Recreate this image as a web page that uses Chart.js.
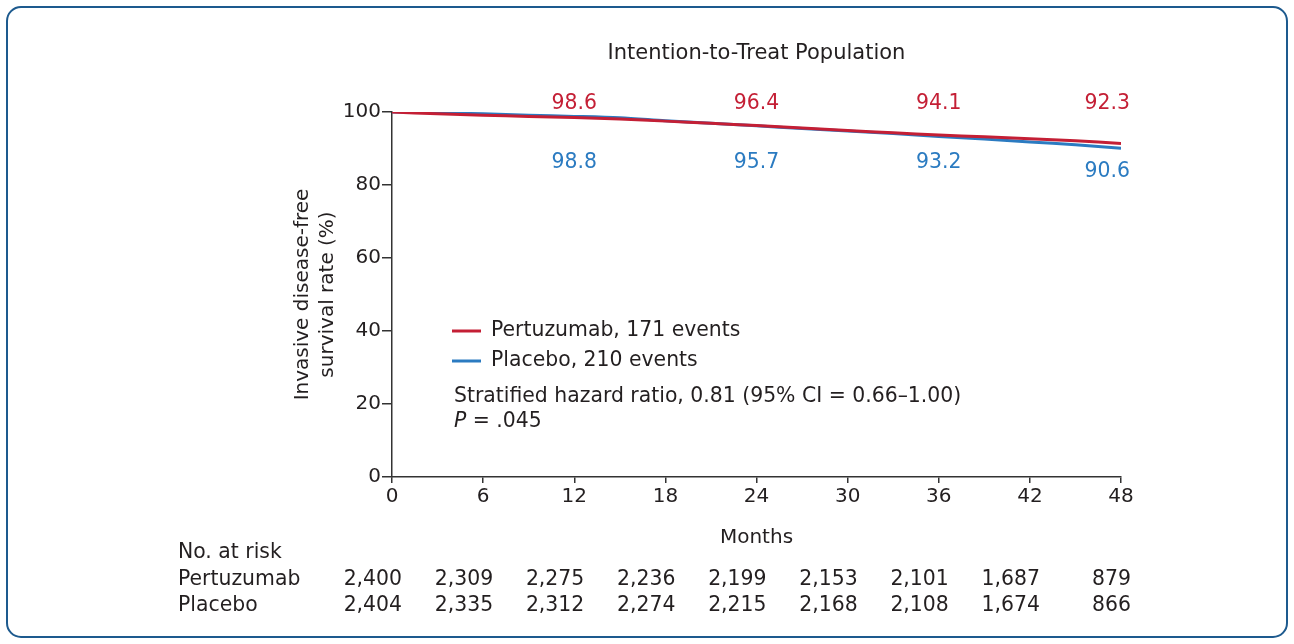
<!DOCTYPE html>
<html>
<head>
<meta charset="utf-8">
<script src="https://cdn.jsdelivr.net/npm/chart.js@4.4.1/dist/chart.umd.min.js"></script>
<style>
  html, body { margin: 0; padding: 0; background: #fff; }
  #wrap { width: 1294px; height: 644px; }
</style>
</head>
<body>
<div id="wrap"><canvas id="kmChart" width="1294" height="644"></canvas></div>
<script>
// survival curves, every 3 months
const months = [0, 3, 6, 9, 12, 15, 18, 21, 24, 27, 30, 33, 36, 39, 42, 45, 48];
const pertuzumabRate = [100, 99.5, 99.1, 98.8, 98.5, 98.1, 97.5, 96.9, 96.3, 95.6, 94.9, 94.3, 93.7, 93.2, 92.7, 92.1, 91.4];
const placeboRate = [100, 99.8, 99.5, 99.1, 98.8, 98.4, 97.6, 96.9, 96.2, 95.5, 94.8, 94.1, 93.3, 92.6, 91.8, 91.0, 90.1];

// rates printed above / below the curves
const labelMonths = [12, 24, 36, 48];
const pertuzumabLabels = ['98.6', '96.4', '94.1', '92.3'];
const placeboLabels = ['98.8', '95.7', '93.2', '90.6'];

// number at risk table
const riskMonths = [0, 6, 12, 18, 24, 30, 36, 42, 48];
const riskPertuzumab = ['2,400', '2,309', '2,275', '2,236', '2,199', '2,153', '2,101', '1,687', '879'];
const riskPlacebo = ['2,404', '2,335', '2,312', '2,274', '2,215', '2,168', '2,108', '1,674', '866'];

const seriesNames = ['Pertuzumab, 171 events', 'Placebo, 210 events'];
const groupNames = ['Pertuzumab', 'Placebo'];

const RED = '#c41f35';
const BLUE = '#2b7bc1';
const INK = '#231f20';
const FONT = '"DejaVu Sans", sans-serif';
const TXT = '20.4px ' + FONT;

function toPoints(xs, ys) {
  return xs.map((x, i) => ({ x: x, y: ys[i] }));
}

// everything that is not a curve or an axis
const extrasPlugin = {
  id: 'extras',
  beforeDraw(chart) {
    const ctx = chart.ctx;
    ctx.save();
    ctx.fillStyle = '#fff';
    ctx.fillRect(0, 0, chart.width, chart.height);
    ctx.strokeStyle = '#1d5a8e';
    ctx.lineWidth = 2;
    ctx.beginPath();
    ctx.roundRect(7, 7, chart.width - 14, chart.height - 14, 14);
    ctx.stroke();
    ctx.restore();
  },
  afterDraw(chart) {
    const ctx = chart.ctx;
    const area = chart.chartArea;
    const xs = chart.scales.x;
    ctx.save();
    ctx.textBaseline = 'middle';

    // title
    ctx.font = '21px ' + FONT;
    ctx.fillStyle = INK;
    ctx.textAlign = 'center';
    ctx.fillText('Intention-to-Treat Population', (area.left + area.right) / 2, 54);

    // rate labels
    ctx.font = TXT;
    labelMonths.forEach((m, i) => {
      const last = i === labelMonths.length - 1;
      const px = last ? xs.getPixelForValue(m) + 9 : xs.getPixelForValue(m);
      ctx.textAlign = last ? 'right' : 'center';
      ctx.fillStyle = RED;
      ctx.fillText(pertuzumabLabels[i], px, area.top - 8);
      ctx.fillStyle = BLUE;
      ctx.fillText(placeboLabels[i], px, area.top + (last ? 60 : 51));
    });

    // legend
    const colors = [RED, BLUE];
    const legendY = [331, 361];
    ctx.textAlign = 'left';
    seriesNames.forEach((name, i) => {
      ctx.strokeStyle = colors[i];
      ctx.lineWidth = 3;
      ctx.beginPath();
      ctx.moveTo(452, legendY[i]);
      ctx.lineTo(481, legendY[i]);
      ctx.stroke();
      ctx.fillStyle = INK;
      ctx.fillText(name, 491, legendY[i]);
    });
    ctx.fillText('Stratified hazard ratio, 0.81 (95% CI = 0.66\u20131.00)', 454, 397);
    ctx.font = 'italic ' + TXT;
    ctx.fillText('P', 454, 422);
    const pw = ctx.measureText('P').width;
    ctx.font = TXT;
    ctx.fillText(' = .045', 454 + pw, 422);

    // number at risk
    ctx.fillText('No. at risk', 178, 553);
    ctx.fillText(groupNames[0], 178, 580);
    ctx.fillText(groupNames[1], 178, 606);
    ctx.textAlign = 'right';
    riskMonths.forEach((m, i) => {
      const px = xs.getPixelForValue(m) + 10;
      ctx.fillText(riskPertuzumab[i], px, 580);
      ctx.fillText(riskPlacebo[i], px, 606);
    });
    ctx.restore();
  }
};

Chart.defaults.font.family = FONT;
Chart.defaults.color = INK;

const ctx = document.getElementById('kmChart').getContext('2d');
new Chart(ctx, {
  type: 'line',
  data: {
    datasets: [
      {
        label: seriesNames[0],
        data: toPoints(months, pertuzumabRate),
        borderColor: RED,
        borderWidth: 3,
        pointRadius: 0,
        tension: 0.3,
        fill: false
      },
      {
        label: seriesNames[1],
        data: toPoints(months, placeboRate),
        borderColor: BLUE,
        borderWidth: 3,
        pointRadius: 0,
        tension: 0.3,
        fill: false
      }
    ]
  },
  options: {
    responsive: false,
    animation: false,
    layout: { padding: { left: 280, right: 173, top: 112, bottom: 92 } },
    plugins: {
      legend: { display: false },
      tooltip: { enabled: false }
    },
    scales: {
      x: {
        type: 'linear',
        min: 0,
        max: 48,
        afterFit: (scale) => { scale.height = 75; },
        ticks: { stepSize: 6, font: { size: 20 }, padding: 2, color: INK },
        grid: { drawOnChartArea: false, drawTicks: true, tickLength: 6, color: '#333', lineWidth: 1.5 },
        border: { color: '#333', width: 1.5 },
        title: { display: true, text: 'Months', font: { size: 20 }, color: INK, padding: { top: 0, bottom: 2 } }
      },
      y: {
        min: 0,
        max: 100,
        afterFit: (scale) => { scale.width = 112; },
        ticks: { stepSize: 20, font: { size: 20 }, padding: 1, color: INK },
        grid: { drawOnChartArea: false, drawTicks: true, tickLength: 10, color: '#333', lineWidth: 1.5 },
        border: { color: '#333', width: 1.5 },
        title: {
          display: true,
          text: ['Invasive disease-free', 'survival rate (%)'],
          font: { size: 20, lineHeight: 1.25 },
          color: INK,
          padding: { top: 10, bottom: 0 }
        }
      }
    }
  },
  plugins: [extrasPlugin]
});
</script>
</body>
</html>
